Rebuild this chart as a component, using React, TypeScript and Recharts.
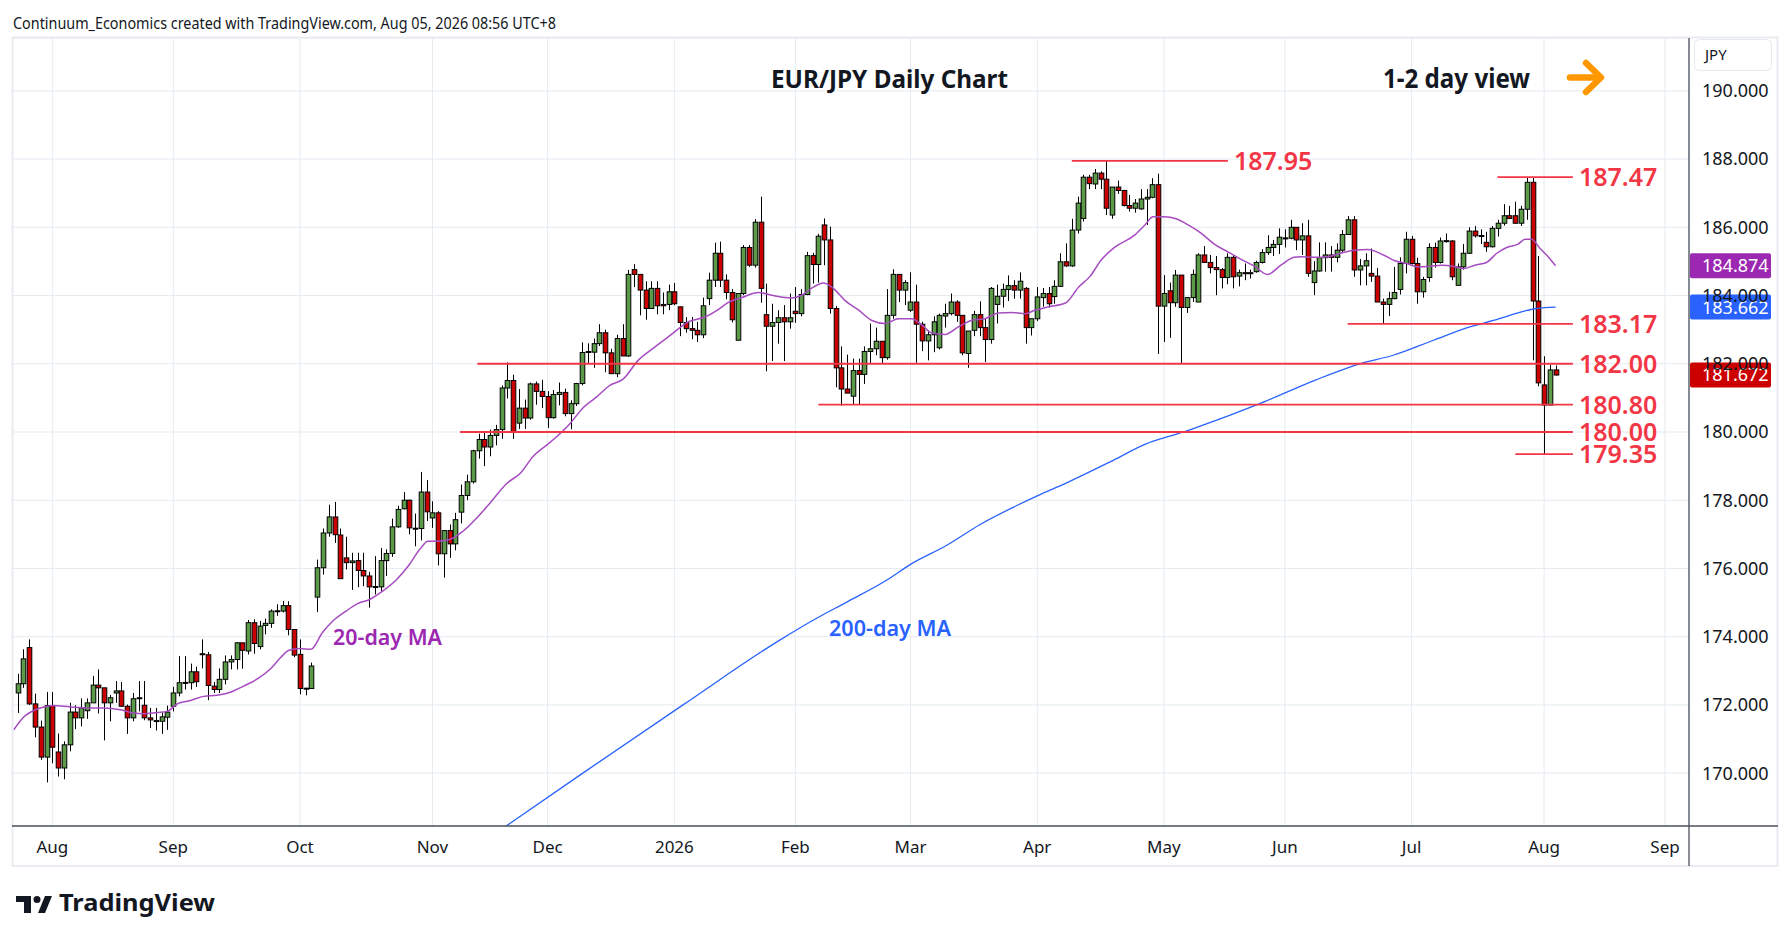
import React from "react";
import {
  ComposedChart,
  Bar,
  Line,
  XAxis,
  YAxis,
  CartesianGrid,
  ReferenceLine,
} from "recharts";

const UP = "#5b9b47";
const DOWN = "#cc0000";
const MA20_COLOR = "#a64cc0";
const MA200_COLOR = "#2962ff";
const LEVEL_COLOR = "#f23645";
const TEXT = "#131722";

// EUR/JPY daily bars, 24 Jul 2025 .. 5 Aug 2026 (weekdays, no 25 Dec / 1 Jan)
// [open, high, low, close]
const candles: [number, number, number, number][] = [
  // Jul 2025
  [172.35, 172.91, 171.76, 172.62], [172.62, 173.63, 172.5, 173.35], [173.68, 173.92, 172.0, 172.03],
  [172.03, 172.33, 171.05, 171.35], [171.35, 171.54, 170.39, 170.47], [170.47, 172.38, 169.73, 171.98],
  // Aug
  [171.98, 172.38, 170.29, 170.76], [170.62, 171.16, 169.9, 170.15], [170.15, 170.93, 169.82, 170.83],
  [170.83, 172.06, 170.64, 171.79], [171.79, 171.99, 171.29, 171.62], [171.62, 172.19, 171.37, 171.91],
  [171.83, 172.19, 171.59, 172.06], [172.06, 172.85, 172.06, 172.58], [172.58, 173.04, 171.75, 172.5],
  [172.5, 172.5, 170.96, 172.06], [172.06, 172.29, 171.52, 172.21], [172.35, 172.7, 172.06, 172.41],
  [172.41, 172.67, 171.96, 171.96], [171.96, 172.01, 171.15, 171.62], [171.62, 172.35, 171.52, 172.18],
  [172.19, 172.7, 171.81, 172.21], [171.99, 172.7, 171.55, 171.62], [171.62, 171.91, 171.32, 171.56],
  [171.54, 171.91, 171.25, 171.52], [171.52, 171.78, 171.15, 171.65], [171.64, 171.98, 171.27, 171.79],
  // Sep
  [171.96, 172.53, 171.81, 172.35], [172.35, 173.43, 172.25, 172.65], [172.64, 173.43, 172.45, 172.66],
  [172.65, 173.21, 172.45, 172.97], [172.97, 173.12, 172.53, 172.68], [173.5, 173.92, 173.07, 173.47],
  [173.47, 173.55, 172.14, 172.57], [172.55, 172.67, 172.35, 172.45], [172.45, 173.07, 172.35, 172.75],
  [172.75, 173.45, 172.6, 173.26], [173.26, 173.45, 173.04, 173.33], [173.33, 173.84, 173.04, 173.82],
  [173.82, 173.82, 173.06, 173.6], [173.58, 174.49, 173.48, 174.41], [174.41, 174.51, 173.5, 173.8],
  [173.71, 174.46, 173.63, 174.31], [174.33, 174.53, 174.07, 174.39], [174.39, 174.8, 174.26, 174.75],
  [174.75, 174.95, 174.61, 174.76], [174.75, 175.05, 174.71, 174.91], [174.91, 175.04, 174.04, 174.21],
  [174.21, 174.21, 173.4, 173.46],
  // Oct
  [173.48, 173.92, 172.31, 172.48], [172.48, 172.5, 172.28, 172.49], [172.48, 173.24, 172.48, 173.14],
  [175.16, 176.26, 174.72, 176.02], [176.02, 177.17, 175.82, 177.04], [177.04, 177.87, 176.93, 177.51],
  [177.51, 177.95, 176.75, 176.99], [176.98, 177.17, 175.7, 175.7], [176.31, 176.93, 175.97, 176.17],
  [176.17, 176.46, 175.37, 176.22], [176.23, 176.46, 175.45, 175.94], [175.94, 176.46, 175.48, 175.78],
  [175.78, 175.9, 174.85, 175.46], [175.45, 176.36, 175.24, 175.47], [175.46, 176.6, 175.34, 176.23],
  [176.23, 176.56, 175.78, 176.44], [176.44, 177.46, 176.34, 177.22], [177.22, 177.84, 177.19, 177.73],
  [177.75, 178.24, 177.73, 178.0], [178.0, 178.02, 177.0, 177.19], [177.18, 177.61, 176.65, 177.17],
  [177.17, 178.83, 176.82, 178.24], [178.24, 178.59, 177.39, 177.66],
  // Nov
  [177.48, 177.97, 177.19, 177.63], [177.63, 177.68, 176.09, 176.43], [176.43, 177.11, 175.73, 177.11],
  [177.11, 177.29, 176.31, 176.72], [176.72, 177.63, 176.53, 177.43], [177.65, 178.46, 177.32, 178.14],
  [178.14, 178.75, 178.0, 178.54], [178.54, 179.48, 178.49, 179.45], [179.45, 179.95, 179.22, 179.78],
  [179.78, 179.97, 179.0, 179.56], [179.56, 180.07, 179.29, 179.9], [179.9, 180.21, 179.61, 180.07],
  [180.07, 181.36, 179.8, 181.29], [181.29, 182.04, 180.98, 181.51], [181.51, 181.68, 179.8, 180.0],
  [180.26, 181.26, 180.09, 180.7], [180.7, 180.95, 180.09, 180.41], [180.41, 181.45, 180.36, 181.41],
  [181.41, 181.48, 180.8, 181.19], [181.19, 181.53, 180.7, 181.04],
  // Dec
  [181.04, 181.2, 180.12, 180.42], [180.42, 181.23, 180.39, 181.1], [181.1, 181.45, 180.78, 181.16],
  [181.16, 181.27, 180.46, 180.54], [180.54, 180.93, 180.08, 180.83], [180.83, 181.44, 180.76, 181.42],
  [181.42, 182.63, 181.37, 182.33], [182.33, 182.6, 182.02, 182.36], [182.34, 182.74, 181.88, 182.59],
  [182.59, 183.16, 182.52, 182.91], [182.91, 183.0, 181.75, 182.32], [182.32, 182.44, 181.71, 181.71],
  [181.71, 182.85, 181.61, 182.74], [182.74, 183.16, 182.23, 182.23], [182.23, 184.75, 182.2, 184.62],
  [184.76, 184.92, 184.25, 184.62], [184.62, 184.62, 183.42, 184.16], [184.16, 184.42, 183.29, 183.62],
  [183.62, 184.42, 183.62, 184.21], [184.21, 184.42, 183.45, 183.7], [183.74, 184.09, 183.45, 183.7],
  [183.74, 184.32, 183.57, 184.11],
  // Jan 2026
  [184.11, 184.37, 183.72, 183.76], [183.67, 183.67, 182.81, 183.21], [183.21, 183.37, 182.91, 183.03],
  [183.03, 183.37, 182.72, 182.98], [182.98, 183.23, 182.64, 182.85], [182.85, 183.94, 182.75, 183.7],
  [183.91, 184.67, 183.72, 184.45], [184.45, 185.55, 184.25, 185.24], [185.24, 185.58, 184.25, 184.45],
  [184.45, 184.62, 183.89, 184.09], [184.09, 184.19, 183.21, 183.29], [182.69, 184.06, 182.69, 184.06],
  [184.06, 185.48, 184.01, 185.41], [185.41, 185.48, 184.84, 184.89], [184.89, 186.24, 184.82, 186.15],
  [186.15, 186.9, 183.79, 184.21], [183.44, 184.35, 181.78, 183.1], [183.1, 183.76, 182.08, 183.21],
  [183.21, 183.57, 182.59, 183.35], [183.35, 183.72, 182.08, 183.23], [183.23, 184.06, 183.03, 183.35],
  // Feb
  [183.54, 184.25, 183.2, 183.47], [183.47, 184.19, 183.39, 184.03], [184.03, 185.28, 184.01, 185.17],
  [185.17, 185.25, 184.35, 184.91], [184.91, 185.81, 184.38, 185.74], [186.07, 186.26, 184.89, 185.63],
  [185.63, 186.02, 183.47, 183.62], [183.62, 183.69, 181.31, 181.88], [181.88, 182.51, 180.77, 181.26],
  [181.26, 182.27, 181.14, 181.14], [181.05, 182.15, 180.8, 181.8], [181.8, 182.15, 180.82, 181.69],
  [181.69, 182.51, 181.41, 182.36], [182.36, 183.18, 182.02, 182.44], [182.44, 183.06, 182.25, 182.66],
  [182.66, 182.66, 182.0, 182.18], [182.18, 184.19, 182.12, 183.42], [183.42, 184.77, 183.32, 184.62],
  [184.62, 184.62, 183.81, 184.16], [184.16, 184.45, 183.72, 184.38],
  // Mar
  [183.57, 184.68, 183.52, 183.81], [183.81, 184.32, 182.03, 183.16], [183.16, 183.23, 182.37, 182.67],
  [182.67, 182.98, 182.1, 182.85], [182.85, 183.39, 182.34, 183.23], [182.47, 183.47, 182.42, 183.42],
  [183.4, 183.76, 183.06, 183.47], [183.47, 184.06, 183.42, 183.81], [183.81, 183.86, 183.23, 183.42],
  [183.42, 183.42, 182.25, 182.32], [182.3, 182.96, 181.88, 182.96], [182.98, 183.55, 182.81, 183.44],
  [183.44, 183.83, 182.81, 183.06], [183.06, 183.34, 182.05, 182.71], [182.71, 184.25, 182.59, 184.21],
  [183.74, 184.32, 183.18, 183.98], [183.98, 184.35, 183.65, 184.18], [184.18, 184.59, 183.84, 184.29],
  [184.29, 184.45, 183.91, 184.16], [184.16, 184.68, 183.91, 184.42], [184.21, 184.25, 182.59, 183.06],
  [183.06, 183.32, 182.83, 183.32],
  // Apr
  [183.32, 184.25, 183.25, 183.96], [183.94, 184.22, 183.67, 184.06], [184.06, 184.25, 183.65, 183.76],
  [183.97, 184.45, 183.76, 184.27], [184.27, 185.24, 184.25, 184.99], [184.99, 185.53, 184.84, 184.87],
  [184.87, 186.25, 184.84, 185.92], [185.92, 186.9, 185.82, 186.71], [186.26, 187.54, 186.17, 187.47],
  [187.47, 187.54, 187.12, 187.28], [187.27, 187.71, 187.12, 187.59], [187.59, 187.64, 187.12, 187.41],
  [187.41, 187.95, 186.36, 186.56], [186.36, 187.18, 186.25, 187.18], [187.18, 187.37, 186.98, 187.08],
  [187.08, 187.1, 186.61, 186.64], [186.64, 186.95, 186.46, 186.56], [186.56, 186.83, 186.43, 186.71],
  [186.54, 187.12, 186.51, 186.83], [186.83, 187.12, 186.07, 186.88], [186.88, 187.44, 186.85, 187.25],
  [187.25, 187.57, 182.29, 183.69],
  // May
  [183.69, 184.6, 182.64, 184.06], [184.14, 184.38, 182.76, 183.79], [183.79, 184.75, 183.67, 184.6],
  [184.6, 184.6, 182.02, 183.65], [183.65, 183.96, 183.49, 183.94], [183.94, 184.76, 183.81, 184.62],
  [183.81, 185.24, 183.81, 185.19], [185.19, 185.45, 184.97, 184.97], [184.97, 185.19, 184.65, 184.82],
  [184.82, 185.16, 184.01, 184.76], [184.76, 184.81, 184.21, 184.53], [184.53, 185.24, 184.33, 185.12],
  [185.12, 185.19, 184.21, 184.55], [184.57, 184.76, 184.27, 184.67], [184.67, 184.94, 184.45, 184.66],
  [184.66, 184.76, 184.5, 184.67], [184.7, 185.02, 184.67, 184.97], [184.97, 185.36, 184.94, 185.26],
  [185.26, 185.77, 185.19, 185.41], [185.41, 185.63, 185.16, 185.5], [185.5, 185.97, 185.22, 185.71],
  // Jun
  [185.68, 185.94, 185.41, 185.69], [185.68, 186.22, 185.65, 186.0], [186.0, 186.0, 185.33, 185.63],
  [185.63, 186.12, 185.19, 185.75], [185.75, 186.22, 184.55, 184.65], [184.38, 185.01, 184.01, 184.72],
  [184.72, 185.56, 184.7, 185.11], [185.11, 185.56, 184.7, 185.19], [185.19, 185.45, 184.7, 185.12],
  [185.12, 185.53, 184.97, 185.33], [185.33, 185.92, 185.24, 185.79], [185.79, 186.33, 185.79, 186.22],
  [186.22, 186.33, 184.55, 184.75], [184.75, 185.07, 184.3, 184.87], [184.87, 185.24, 184.3, 185.02],
  [184.65, 185.38, 184.4, 184.57], [184.57, 184.81, 183.81, 183.81], [183.81, 183.91, 183.18, 183.74],
  [183.74, 184.11, 183.4, 183.91], [183.91, 184.84, 183.89, 184.09], [184.18, 185.12, 184.03, 184.94],
  [184.94, 185.87, 184.65, 185.65],
  // Jul
  [185.65, 185.75, 184.91, 184.94], [184.94, 185.11, 183.76, 184.11], [184.11, 184.55, 183.94, 184.47],
  [184.53, 185.53, 184.4, 185.41], [185.41, 185.55, 184.82, 184.97], [184.97, 185.7, 184.94, 185.6],
  [185.6, 185.82, 185.55, 185.61], [185.6, 185.63, 184.45, 184.55], [184.3, 184.94, 184.3, 184.84],
  [184.84, 185.51, 184.76, 185.24], [185.24, 186.0, 185.22, 185.89], [185.89, 186.04, 185.7, 185.75],
  [185.76, 185.94, 185.51, 185.75], [185.56, 185.87, 185.28, 185.43], [185.43, 186.04, 185.41, 185.97],
  [185.97, 186.22, 185.73, 186.12], [186.12, 186.68, 186.05, 186.34], [186.34, 186.63, 186.24, 186.26],
  [186.34, 186.75, 186.1, 186.12], [186.12, 186.63, 186.04, 186.53], [186.53, 187.46, 186.22, 187.32],
  [187.32, 187.46, 182.1, 183.84], [183.84, 185.16, 181.34, 181.44],
  // Aug
  [181.38, 182.22, 179.34, 180.79], [180.79, 181.97, 180.79, 181.82], [181.82, 181.95, 181.66, 181.67],
];

// bar index of the first session of each month, and its label
const monthTicks = [6, 27, 49, 72, 92, 114, 135, 155, 177, 199, 220, 242, 265, 286];
const monthLabels = ["Aug", "Sep", "Oct", "Nov", "Dec", "2026", "Feb", "Mar", "Apr", "May", "Jun", "Jul", "Aug", "Sep"];

const priceTicks = [170, 172, 174, 176, 178, 180, 182, 184, 186, 188, 190];

// [bar index, value]
const ma20: [number, number][] = [
  [-0.7, 171.27], [1, 171.64], [3.1, 171.86], [5.1, 171.96], [6.1, 171.98], [9.1, 171.94], [12, 171.91],
  [14.9, 171.91], [17.8, 171.86], [20.1, 171.76], [21.9, 171.74], [24.2, 171.78], [25.9, 171.81],
  [27.7, 172.03], [30, 172.13], [32.3, 172.25], [34.6, 172.28], [36.9, 172.37], [39.2, 172.55],
  [41.6, 172.76], [43.9, 173.06], [45.6, 173.38], [47.1, 173.6], [49, 173.65], [50.9, 173.63],
  [52.9, 174.12], [54.7, 174.46], [57, 174.75], [59, 174.97], [61.1, 175.09], [63.4, 175.34],
  [65.7, 175.66], [67.8, 176.07], [69.8, 176.56], [71.2, 176.8], [72.7, 176.8], [75, 176.85],
  [77.3, 177.09], [79.7, 177.48], [82, 177.92], [84.9, 178.49], [87.3, 178.8], [89.5, 179.29],
  [92.3, 179.68], [93, 179.78], [95.9, 180.25], [98.2, 180.72], [100.5, 181.03], [102.8, 181.37],
  [105.1, 181.55], [107.7, 182.1], [110.6, 182.49], [113.5, 182.86], [116.4, 183.23], [119.3, 183.37],
  [121.6, 183.59], [123.3, 183.79], [125.7, 183.94], [128.6, 184.09], [130.9, 184.01], [133.2, 183.94],
  [134.4, 183.93], [136.1, 184.01], [137.8, 184.21], [139.9, 184.37], [141.6, 184.21], [143.6, 183.86],
  [146, 183.57], [148.3, 183.27], [150.6, 183.18], [152.9, 183.32], [155.2, 183.32], [157, 183.13],
  [158.7, 182.9], [161, 182.86], [163.3, 183.08], [165.6, 183.27], [167.9, 183.32], [170.3, 183.49],
  [172.6, 183.5], [174.9, 183.47], [176.6, 183.57], [179, 183.67], [181.9, 183.78], [184.2, 184.25],
  [186.2, 184.57], [188.1, 185.04], [190.4, 185.41], [193.9, 185.77], [195.7, 186.07], [197.1, 186.31],
  [199.1, 186.31], [201.1, 186.25], [203.2, 186.07], [205.5, 185.82], [207.8, 185.5], [210.1, 185.28],
  [212.4, 185.06], [214.7, 184.86], [217, 184.62], [219.3, 184.89], [221.6, 185.12], [222.8, 185.14],
  [225.1, 185.12], [227.5, 185.14], [229.8, 185.25], [232.1, 185.33], [234.4, 185.35], [237.1, 185.19],
  [239.1, 185.02], [241.1, 184.94], [243.2, 184.84], [245.2, 184.86], [247.2, 184.89], [249.2, 184.86],
  [251, 184.79], [253, 184.89], [255, 184.97], [256.8, 185.24], [258.5, 185.41], [260.5, 185.51],
  [261.7, 185.65], [262.8, 185.65], [264.3, 185.38], [265.7, 185.14], [267, 184.874],
];

const ma200: [number, number][] = [
  [84.8, 168.45], [98.1, 170.0], [115.5, 172.0], [132.3, 173.9], [138.7, 174.54], [144, 175.02],
  [150.9, 175.66], [155, 176.12], [161.3, 176.68], [167.1, 177.29], [172.9, 177.8], [177, 178.13],
  [182.1, 178.51], [190.2, 179.17], [196, 179.66], [199, 179.83], [202.4, 180.0], [205.3, 180.17],
  [215.2, 180.8], [225.4, 181.53], [233, 182.0], [238.8, 182.25], [245.8, 182.69], [252.1, 183.08],
  [256.2, 183.27], [261.7, 183.55], [263.7, 183.62], [267, 183.662],
];

// support / resistance levels and the bar span each line covers
const levelValues = [187.95, 187.47, 183.17, 182.0, 180.8, 180.0, 179.35];
const levelFrom = [183, 256.9, 230.9, 79.8, 139, 76.8, 260];
const levelTo = [210.1, 270, 270, 270, 270, 270, 270];

const lastClose = 181.672;
const lastMa20 = 184.874;
const lastMa200 = 183.662;

const data = candles.map(([o, h, l, c], i) => ({ i, o, h, l, c, range: [l, h] }));
const ma20Data = ma20.map(([i, v]) => ({ i, v }));
const ma200Data = ma200.map(([i, v]) => ({ i, v }));

const Candle = (props: any) => {
  const { x, y, width, height, payload } = props;
  if (x == null || y == null || !payload) return null;
  const top = Math.min(y, y + height);
  const span = Math.abs(height);
  const { o, c, h, l } = payload;
  const ppu = h > l ? span / (h - l) : 0;
  const cx = Math.round(x + width / 2) + 0.5;
  const bodyTop = top + (h - Math.max(o, c)) * ppu;
  const bodyH = Math.max(1, Math.abs(o - c) * ppu);
  return (
    <g>
      <line x1={cx} x2={cx} y1={top} y2={top + span} stroke="#000" strokeWidth={1} />
      <rect
        x={cx - 2.3}
        y={bodyTop}
        width={4.6}
        height={bodyH}
        fill={c >= o ? UP : DOWN}
        stroke="#000"
        strokeWidth={1}
      />
    </g>
  );
};

const badge = (color: string, text: string) => (props: any) => {
  const vb = props.viewBox;
  if (!vb) return null;
  const bx = vb.x + vb.width + 1;
  return (
    <g>
      <rect x={bx} y={vb.y - 12.5} width={81} height={25} rx={2} fill={color} />
      <text x={bx + 12} y={vb.y} dy="0.36em" fill="#fff" fontSize={18}>
        {text}
      </text>
    </g>
  );
};

const Overlay = () => (
  <svg
    width={1789}
    height={941}
    style={{ position: "absolute", left: 0, top: 0, pointerEvents: "none" }}
  >
    <text x={13} y={28.5} fontSize={16.5} fill={TEXT} textLength={543} lengthAdjust="spacingAndGlyphs">
      Continuum_Economics created with TradingView.com, Aug 05, 2026 08:56 UTC+8
    </text>
    {/* frame */}
    <rect x={12.5} y={37.5} width={1765} height={828.5} fill="none" stroke="#e8ebf0" strokeWidth={2} />
    <line x1={12} x2={1778} y1={826} y2={826} stroke="#4c505b" strokeWidth={1.3} />
    <line x1={1689} x2={1689} y1={38} y2={866} stroke="#4c505b" strokeWidth={1.3} />
    <rect x={1694.5} y={39.5} width={77} height={31} rx={5} fill="#fff" stroke="#e6e9ee" />
    <text x={1705} y={60} fontSize={15} fill={TEXT}>JPY</text>

    <text x={771} y={87.5} fontSize={25} fontWeight={700} fill={TEXT} textLength={237} lengthAdjust="spacingAndGlyphs">
      EUR/JPY Daily Chart
    </text>
    <text x={1383} y={87.5} fontSize={26} fontWeight={700} fill={TEXT} textLength={147} lengthAdjust="spacingAndGlyphs">
      1-2 day view
    </text>
    <g stroke="#ff9800" strokeWidth={6.5} strokeLinecap="round" strokeLinejoin="round" fill="none">
      <line x1={1570} y1={77.5} x2={1600} y2={77.5} />
      <polyline points="1586,63 1601,77.5 1586,92" />
    </g>

    <text x={333} y={645} fontSize={22} fontWeight={600} fill="#9c27b0" textLength={109} lengthAdjust="spacingAndGlyphs">
      20-day MA
    </text>
    <text x={829} y={636} fontSize={22} fontWeight={600} fill={MA200_COLOR} textLength={122} lengthAdjust="spacingAndGlyphs">
      200-day MA
    </text>

    {/* TradingView mark */}
    <g fill={TEXT}>
      <rect x={16} y={896} width={15} height={6} />
      <rect x={24} y={896} width={7} height={17} />
      <circle cx={37} cy={899.5} r={3.5} />
      <polygon points="45,896 52,896 45,913 38,913" />
    </g>
    <text x={59} y={911} fontSize={23} fontWeight={700} fill={TEXT} textLength={156} lengthAdjust="spacingAndGlyphs">
      TradingView
    </text>
  </svg>
);

export default function App() {
  return (
    <div
      style={{
        position: "absolute",
        left: 0,
        top: 0,
        width: 1789,
        height: 941,
        background: "#fff",
        fontFamily: "'Noto Sans', sans-serif",
        overflow: "hidden",
      }}
    >
      <div style={{ position: "absolute", left: 12, top: 38 }}>
        <ComposedChart width={1765} height={828} data={data} margin={{ top: 0, right: 0, bottom: 0, left: 0 }}>
          <CartesianGrid stroke="#e4ebf1" strokeWidth={1} />
          <XAxis
            dataKey="i"
            type="number"
            domain={[-1, 290.16]}
            allowDataOverflow
            ticks={monthTicks}
            interval={0}
            tickFormatter={(v: number) => monthLabels[monthTicks.indexOf(v)] ?? ""}
            axisLine={false}
            tickLine={false}
            tickMargin={9}
            height={40}
            tick={{ fill: TEXT, fontSize: 17 }}
          />
          <YAxis
            orientation="right"
            type="number"
            domain={[168.45, 191.55]}
            allowDataOverflow
            ticks={priceTicks}
            interval={0}
            tickFormatter={(v: number) => v.toFixed(3)}
            axisLine={false}
            tickLine={false}
            tickMargin={7}
            width={88}
            tick={{ fill: TEXT, fontSize: 18 }}
          />
          <Line
            data={ma200Data}
            dataKey="v"
            type="monotone"
            stroke={MA200_COLOR}
            strokeWidth={1.3}
            dot={false}
            activeDot={false}
            isAnimationActive={false}
          />
          <Line
            data={ma20Data}
            dataKey="v"
            type="monotone"
            stroke={MA20_COLOR}
            strokeWidth={1.5}
            dot={false}
            activeDot={false}
            isAnimationActive={false}
          />
          {levelValues.map((v, k) => (
            <ReferenceLine
              key={`lvl-${k}`}
              segment={[
                { x: levelFrom[k], y: v },
                { x: levelTo[k], y: v },
              ]}
              stroke={LEVEL_COLOR}
              strokeWidth={1.8}
              label={{
                value: v.toFixed(2),
                position: "right",
                fill: LEVEL_COLOR,
                fontSize: 25,
                fontWeight: 600,
                offset: 6,
              }}
            />
          ))}
          <Bar dataKey="range" barSize={5} shape={<Candle />} isAnimationActive={false} />
          <ReferenceLine y={lastMa20} stroke="none" label={badge("#9c27b0", lastMa20.toFixed(3))} />
          <ReferenceLine y={lastMa200} stroke="none" label={badge("#2962ff", lastMa200.toFixed(3))} />
          <ReferenceLine y={lastClose} stroke="none" label={badge("#cc0000", lastClose.toFixed(3))} />
        </ComposedChart>
      </div>
      <Overlay />
    </div>
  );
}
